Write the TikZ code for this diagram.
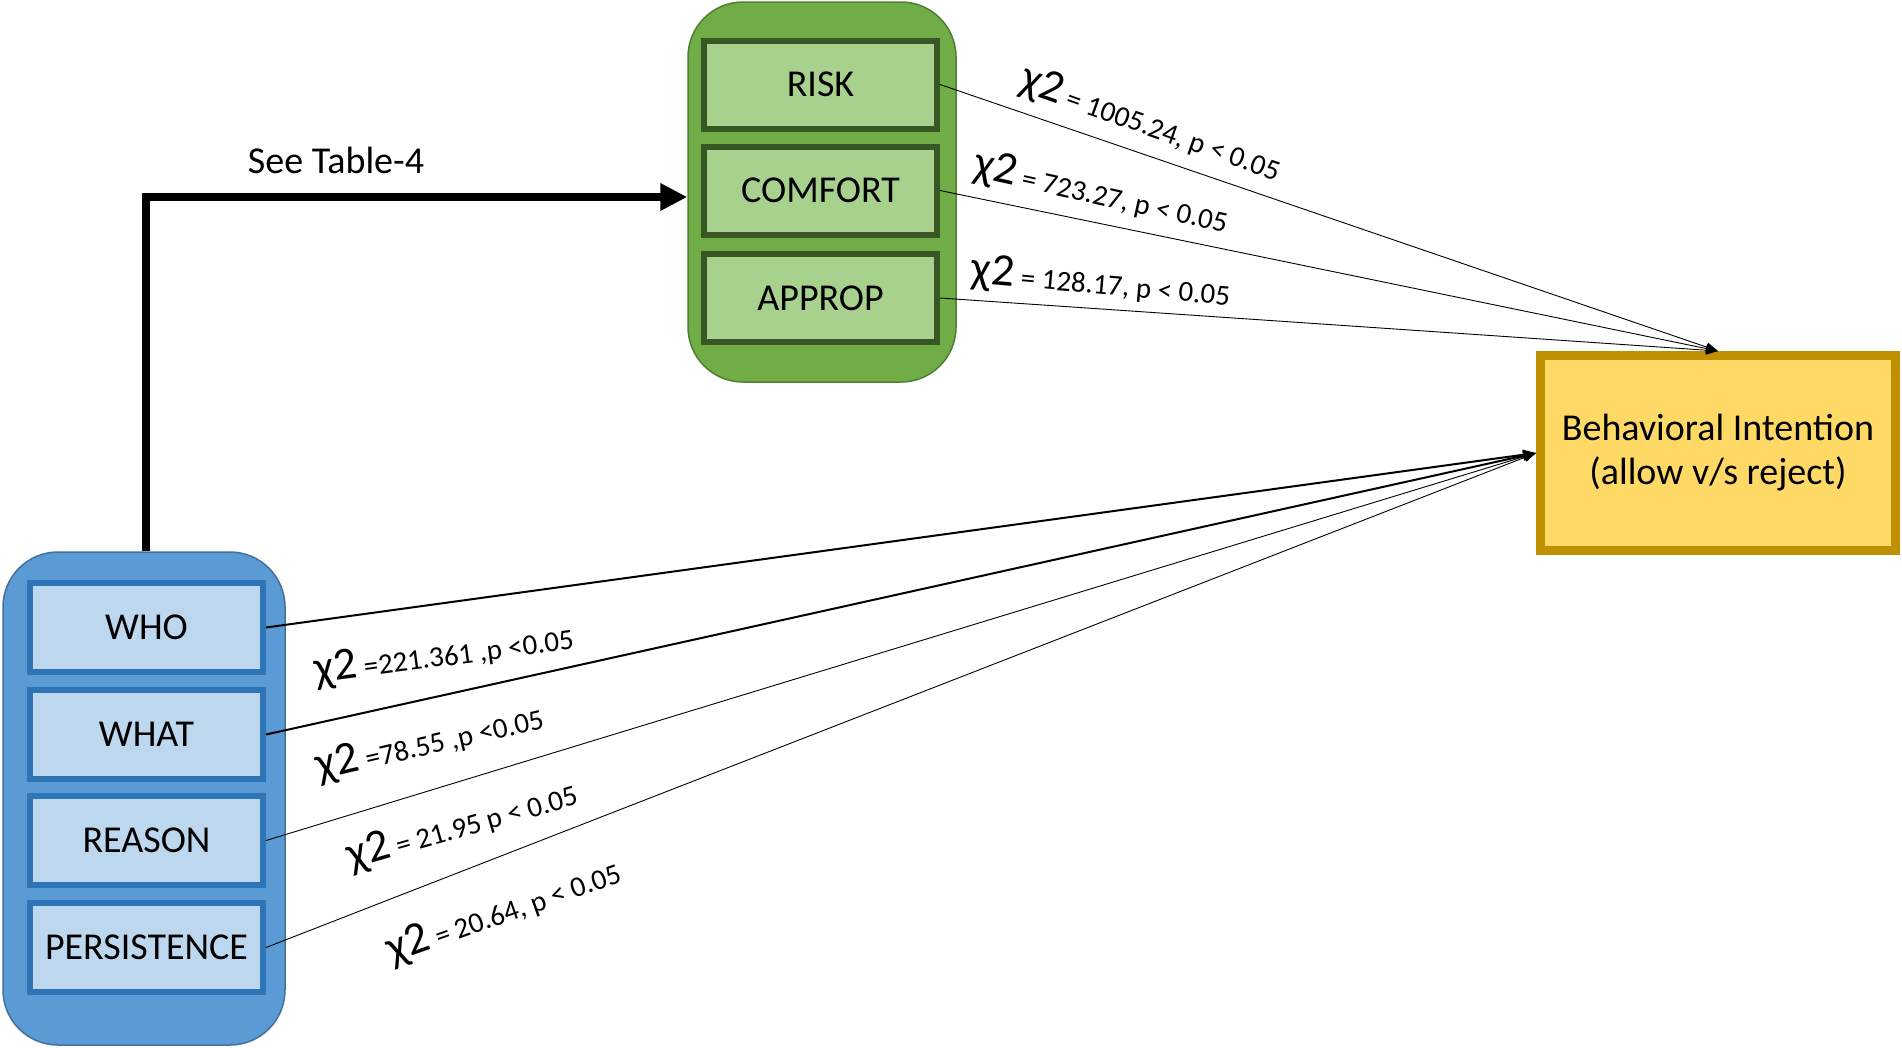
\documentclass[tikz,border=0pt]{standalone}
\usepackage{fontspec}
\setmainfont{Carlito}
\usetikzlibrary{arrows.meta}
\definecolor{gOutFill}{HTML}{70AD47}
\definecolor{gOutDraw}{HTML}{507E32}
\definecolor{gInFill}{HTML}{A9D18E}
\definecolor{gInDraw}{HTML}{375623}
\definecolor{bOutFill}{HTML}{5B9BD5}
\definecolor{bOutDraw}{HTML}{41719C}
\definecolor{bInFill}{HTML}{BDD7EE}
\definecolor{bInDraw}{HTML}{2E75B6}
\definecolor{yFill}{HTML}{FFD966}
\definecolor{yDraw}{HTML}{BF9000}
\tikzset{
  bigfont/.style={font=\fontsize{38}{44}\selectfont},
  goutbox/.style={draw=gOutDraw, fill=gOutFill, line width=1.5pt, rounded corners=55pt, minimum width=268pt, minimum height=380pt, inner sep=0pt},
  boutbox/.style={draw=bOutDraw, fill=bOutFill, line width=1.5pt, rounded corners=55pt, minimum width=282pt, minimum height=493pt, inner sep=0pt},
  ginbox/.style={draw=gInDraw, fill=gInFill, line width=6pt, minimum width=233pt, minimum height=88pt, inner sep=0pt, bigfont},
  binbox/.style={draw=bInDraw, fill=bInFill, line width=6pt, minimum width=233pt, minimum height=89pt, inner sep=0pt, bigfont},
  ybox/.style={draw=yDraw, fill=yFill, line width=9pt, minimum width=355pt, minimum height=195pt, inner sep=0pt, align=center, font=\fontsize{38}{44}\selectfont},
  thinarrow/.style={draw=black, line width=0.9pt, -{Triangle[length=12pt,width=9pt]}},
  medarrow/.style={draw=black, line width=2pt, -{Triangle[length=13pt,width=10pt]}},
  bigarrow/.style={draw=black, line width=7.5pt, -{Triangle[length=27pt,width=26pt]}},
  chilabel/.style={inner sep=0pt, anchor=center},
}
\newcommand{\chitxt}[1]{{\fontsize{46}{48}\selectfont χ2}{\fontsize{29}{32}\selectfont #1}}
\begin{document}
\begin{tikzpicture}[x=1pt,y=-1pt]
\useasboundingbox (0,0) rectangle (1902,1047);
% outer group boxes
\node[goutbox] (green) at (822,192) {};
\node[boutbox] (blue) at (144,798.5) {};
% inner boxes
\node[ginbox] (risk) at (820.5,84.5) {RISK};
\node[ginbox] (comfort) at (820.5,190.5) {COMFORT};
\node[ginbox] (approp) at (820.5,298) {APPROP};
\node[binbox] (who) at (146.5,627.5) {WHO};
\node[binbox] (what) at (146.5,734.5) {WHAT};
\node[binbox] (reason) at (146.5,840.5) {REASON};
\node[binbox] (persist) at (146.5,947.5) {PERSISTENCE};
% target
\node[ybox] (bi) at (1718,453) {Behavioral Intention\\(allow v/s reject)};
% elbow arrow
\coordinate (elbowstart) at (146,551);
\draw[bigarrow] (elbowstart) |- ([yshift=-5pt]green.west);
\node[bigfont, inner sep=0pt] (seetab) at (336,160) {See Table-4};
% connectors upper
\draw[thinarrow] (risk.east) -- (bi.north);
\draw[thinarrow] (comfort.east) -- (bi.north);
\draw[thinarrow] (approp.east) -- (bi.north);
% connectors lower
\draw[medarrow] (who.east) -- (bi.west);
\draw[medarrow] (what.east) -- (bi.west);
\draw[thinarrow] (reason.east) -- (bi.west);
\draw[thinarrow] (persist.east) -- (bi.west);
% labels
\node[chilabel, rotate=-19.5] (l1) at (1151,125) {\chitxt{ = 1005.24, p < 0.05}};
\node[chilabel, rotate=-12.5] (l2) at (1101,194) {\chitxt{ = 723.27, p < 0.05}};
\node[chilabel, rotate=-5] (l3) at (1101,283) {\chitxt{ = 128.17, p < 0.05}};
\node[chilabel, rotate=7.5] (l4) at (444,655) {\chitxt{ =221.361 ,p <0.05}};
\node[chilabel, rotate=13] (l5) at (430,743) {\chitxt{ =78.55 ,p <0.05}};
\node[chilabel, rotate=16] (l6) at (463,826) {\chitxt{ = 21.95 p < 0.05}};
\node[chilabel, rotate=19.5] (l7) at (504,912) {\chitxt{ = 20.64, p < 0.05}};
\end{tikzpicture}
\end{document}
